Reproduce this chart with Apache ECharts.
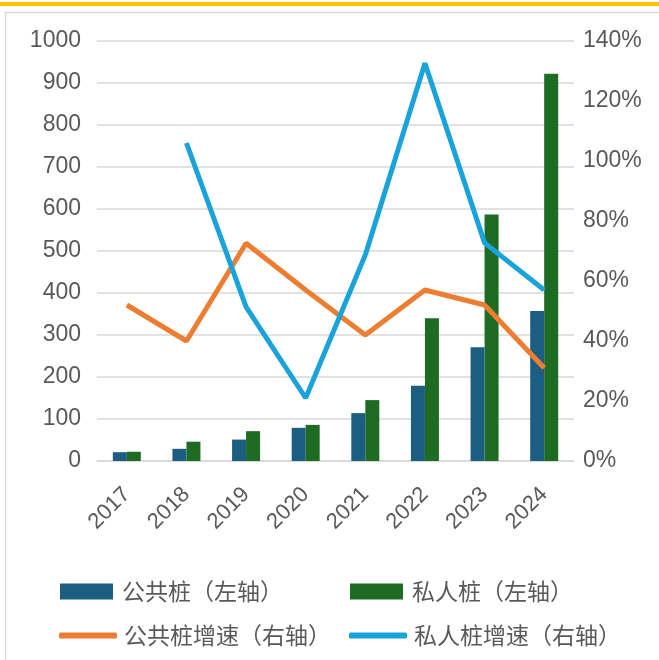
<!DOCTYPE html>
<html>
<head>
<meta charset="utf-8">
<script src="https://cdn.jsdelivr.net/npm/echarts@6/dist/echarts.min.js"></script>
<style>
  html, body { margin: 0; padding: 0; background: #fff; }
  #chart { width: 659px; height: 660px; }
</style>
</head>
<body>
<div id="chart"></div>
<script>
    var years = ['2017', '2018', '2019', '2020', '2021', '2022', '2023', '2024'];
    var publicPile = [21, 29, 51, 79, 114, 179, 271, 357];
    var privatePile = [22, 46, 71, 86, 145, 340, 587, 922];
    var publicGrowth = [52, 40, 72.6, 57, 42, 57, 52, 31];
    var privateGrowth = [null, 106, 51.4, 21, 68.7, 132.6, 72.7, 57];

    var names = ['公共桩（左轴）', '私人桩（左轴）', '公共桩增速（右轴）', '私人桩增速（右轴）'];
    var labelFont = 'Liberation Sans, Arial, sans-serif';
    var cjkFont = 'Noto Sans CJK SC, sans-serif';
    var grayText = '#595959';

    var myChart = echarts.init(document.getElementById('chart'));

    var legendBase = function (name, left, top, isLine) {
        return {
            data: [name],
            left: left,
            top: top,
            padding: 0,
            itemWidth: isLine ? 58 : 53,
            itemHeight: isLine ? 6 : 16,
            icon: isLine ? 'roundRect' : 'rect',
            selectedMode: false,
            textStyle: {
                fontFamily: cjkFont,
                fontSize: 23,
                color: grayText,
                padding: [0, 0, 0, isLine ? 2 : 4]
            }
        };
    };

    var option = {
        backgroundColor: '#fff',
        animation: false,
        graphic: [
            {
                type: 'rect',
                shape: { x: 0, y: 2, width: 659, height: 4 },
                style: { fill: '#FFC000' }
            },
            {
                type: 'rect',
                shape: { x: 5.5, y: 12.5, width: 700, height: 700 },
                style: { fill: 'none', stroke: '#d9d9d9', lineWidth: 1.5 }
            }
        ],
        legend: [
            legendBase(names[0], 60, 580, false),
            legendBase(names[1], 350, 580, false),
            legendBase(names[2], 59, 624, true),
            legendBase(names[3], 349, 624, true)
        ],
        grid: {
            left: 97,
            right: 85,
            top: 41,
            bottom: 199
        },
        xAxis: [{
            type: 'category',
            data: years,
            axisTick: { show: false },
            axisLine: { lineStyle: { color: '#d9d9d9', width: 1.5 } },
            axisLabel: {
                interval: 0,
                rotate: 45,
                margin: 30,
                fontFamily: labelFont,
                fontSize: 22,
                color: grayText
            }
        }],
        yAxis: [{
            type: 'value',
            min: 0,
            max: 1000,
            interval: 100,
            axisLine: { show: false },
            axisTick: { show: false },
            splitLine: { lineStyle: { color: '#d9d9d9', width: 1.5 } },
            axisLabel: {
                margin: 16,
                fontFamily: labelFont,
                fontSize: 23,
                color: grayText,
                formatter: function (v) { return String(v); }
            }
        }, {
            type: 'value',
            min: 0,
            max: 140,
            interval: 20,
            position: 'right',
            axisLine: { show: false },
            axisTick: { show: false },
            splitLine: { show: false },
            axisLabel: {
                margin: 9,
                fontFamily: labelFont,
                fontSize: 23,
                color: grayText,
                formatter: '{value}%'
            }
        }],
        series: [{
            name: names[0],
            type: 'bar',
            barWidth: 14,
            barGap: '0%',
            itemStyle: { color: '#1B5E82' },
            data: publicPile
        }, {
            name: names[1],
            type: 'bar',
            barWidth: 14,
            itemStyle: { color: '#1E6B24' },
            data: privatePile
        }, {
            name: names[2],
            type: 'line',
            yAxisIndex: 1,
            symbol: 'none',
            lineStyle: { color: '#ED7D31', width: 5 },
            itemStyle: { color: '#ED7D31' },
            data: publicGrowth
        }, {
            name: names[3],
            type: 'line',
            yAxisIndex: 1,
            symbol: 'none',
            lineStyle: { color: '#1AA3DB', width: 5 },
            itemStyle: { color: '#1AA3DB' },
            data: privateGrowth
        }]
    };

    myChart.setOption(option);
</script>
</body>
</html>
